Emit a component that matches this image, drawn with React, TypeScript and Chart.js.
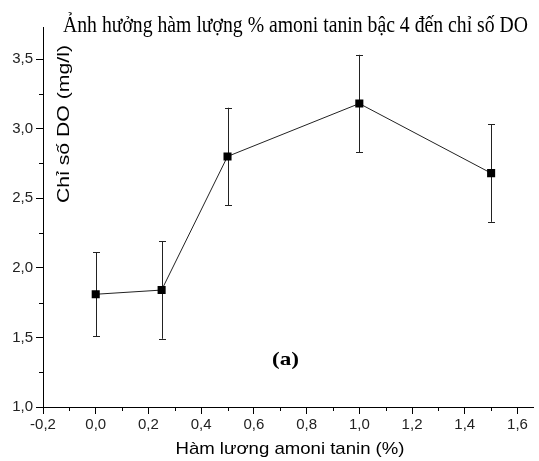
import React, { useEffect, useRef } from "react";
import { Chart, registerables } from "chart.js";

Chart.register(...registerables);

const xValues = [0, 0.25, 0.5, 1.0, 1.5];
const doValues = [1.81, 1.84, 2.80, 3.18, 2.68];
const errValues = [0.30, 0.35, 0.35, 0.35, 0.35];
const xTicks = [-0.2, 0.0, 0.2, 0.4, 0.6, 0.8, 1.0, 1.2, 1.4, 1.6];
const yTicks = [1.0, 1.5, 2.0, 2.5, 3.0, 3.5];
const xMinor = [-0.1, 0.1, 0.3, 0.5, 0.7, 0.9, 1.1, 1.3, 1.5];
const yMinor = [1.25, 1.75, 2.25, 2.75, 3.25];

const titleText = "Ảnh hưởng hàm lượng % amoni tanin bậc 4 đến chỉ số DO";
const yTitle = "Chỉ số DO (mg/l)";
const xTitle = "Hàm lương amoni tanin (%)";
const panelLabel = "(a)";

const fmt = (v: number) => v.toFixed(1).replace(".", ",");

function drawFit(ctx: CanvasRenderingContext2D, text: string, font: string, cx: number, cy: number, targetW: number, rotate = 0) {
  ctx.save();
  ctx.font = font;
  const w = ctx.measureText(text).width;
  ctx.translate(cx, cy);
  if (rotate) ctx.rotate(rotate);
  ctx.scale(targetW / w, 1);
  ctx.textAlign = "center";
  ctx.fillText(text, 0, 0);
  ctx.restore();
}

const decorPlugin = {
  id: "decor",
  beforeDatasetsDraw(chart: any) {
    const ctx = chart.ctx as CanvasRenderingContext2D;
    const xs = chart.scales.x;
    const ys = chart.scales.y;
    ctx.save();
    ctx.strokeStyle = "#222";
    ctx.lineWidth = 1;
    xValues.forEach((xv, i) => {
      const px = Math.round(xs.getPixelForValue(xv)) + 0.5;
      const top = ys.getPixelForValue(doValues[i] + errValues[i]);
      const bot = ys.getPixelForValue(doValues[i] - errValues[i]);
      ctx.beginPath();
      ctx.moveTo(px, top);
      ctx.lineTo(px, bot);
      ctx.moveTo(px - 3.5, Math.round(top) + 0.5);
      ctx.lineTo(px + 3.5, Math.round(top) + 0.5);
      ctx.moveTo(px - 3.5, Math.round(bot) + 0.5);
      ctx.lineTo(px + 3.5, Math.round(bot) + 0.5);
      ctx.stroke();
    });
    ctx.restore();
  },
  afterDraw(chart: any) {
    const ctx = chart.ctx as CanvasRenderingContext2D;
    const xs = chart.scales.x;
    const ys = chart.scales.y;
    const area = chart.chartArea;
    ctx.save();
    ctx.strokeStyle = "#000";
    ctx.lineWidth = 1;
    ctx.beginPath();
    xMinor.forEach((v) => {
      const px = Math.round(xs.getPixelForValue(v)) + 0.5;
      ctx.moveTo(px, area.bottom);
      ctx.lineTo(px, area.bottom + 4);
    });
    yMinor.forEach((v) => {
      const py = Math.round(ys.getPixelForValue(v)) + 0.5;
      ctx.moveTo(area.left, py);
      ctx.lineTo(area.left - 4, py);
    });
    ctx.stroke();

    ctx.fillStyle = "#000";
    ctx.textBaseline = "alphabetic";
    drawFit(ctx, titleText, '24px "Liberation Serif"', 295.5, 32, 465);
    drawFit(ctx, xTitle, '17px "Liberation Sans"', 290, 454, 229);
    ctx.textBaseline = "middle";
    drawFit(ctx, yTitle, '17px "Liberation Sans"', 64, 124, 158, -Math.PI / 2);
    drawFit(ctx, panelLabel, 'bold 19px "Liberation Serif"', xs.getPixelForValue(0.72), ys.getPixelForValue(1.34), 27);
    ctx.restore();
  },
};

export default function App() {
  const ref = useRef<HTMLCanvasElement | null>(null);
  useEffect(() => {
    if (!ref.current) return;
    const chart = new Chart(ref.current, {
      type: "scatter",
      data: {
        datasets: [
          {
            data: xValues.map((x, i) => ({ x, y: doValues[i] })),
            showLine: true,
            borderColor: "#222",
            borderWidth: 1,
            backgroundColor: "#000",
            pointBackgroundColor: "#000",
            pointBorderColor: "#000",
            pointBorderWidth: 0,
            pointStyle: "rect",
            pointRadius: 5.7,
          },
        ],
      },
      options: {
        responsive: false,
        animation: false,
        layout: { padding: { top: 27, right: 0, left: 0, bottom: 0 } },
        plugins: { legend: { display: false }, tooltip: { enabled: false }, title: { display: false } },
        scales: {
          x: {
            type: "linear",
            min: -0.2,
            max: 1.66,
            afterBuildTicks: (s: any) => {
              s.ticks = xTicks.map((v) => ({ value: v }));
            },
            afterFit: (s: any) => {
              s.height = 54;
            },
            border: { color: "#000", width: 1 },
            grid: { drawOnChartArea: false, drawTicks: true, tickLength: 7, tickColor: "#000" },
            ticks: {
              color: "#222",
              padding: 2,
              maxRotation: 0,
              autoSkip: false,
              font: { family: "Liberation Sans", size: 15 },
              callback: (v: any) => fmt(Number(v)),
            },
          },
          y: {
            type: "linear",
            min: 1.0,
            max: 3.73,
            afterBuildTicks: (s: any) => {
              s.ticks = yTicks.map((v) => ({ value: v }));
            },
            afterFit: (s: any) => {
              s.width = 43;
            },
            border: { color: "#000", width: 1 },
            grid: { drawOnChartArea: false, drawTicks: true, tickLength: 7, tickColor: "#000" },
            ticks: {
              color: "#222",
              padding: 3,
              autoSkip: false,
              font: { family: "Liberation Sans", size: 15 },
              callback: (v: any) => fmt(Number(v)),
            },
          },
        },
      },
      plugins: [decorPlugin],
    });
    return () => chart.destroy();
  }, []);
  return (
    <div style={{ position: "fixed", left: 0, top: 0, width: 539, height: 461, background: "#fff" }}>
      <canvas ref={ref} width={539} height={461} style={{ width: 539, height: 461, display: "block" }} />
    </div>
  );
}
